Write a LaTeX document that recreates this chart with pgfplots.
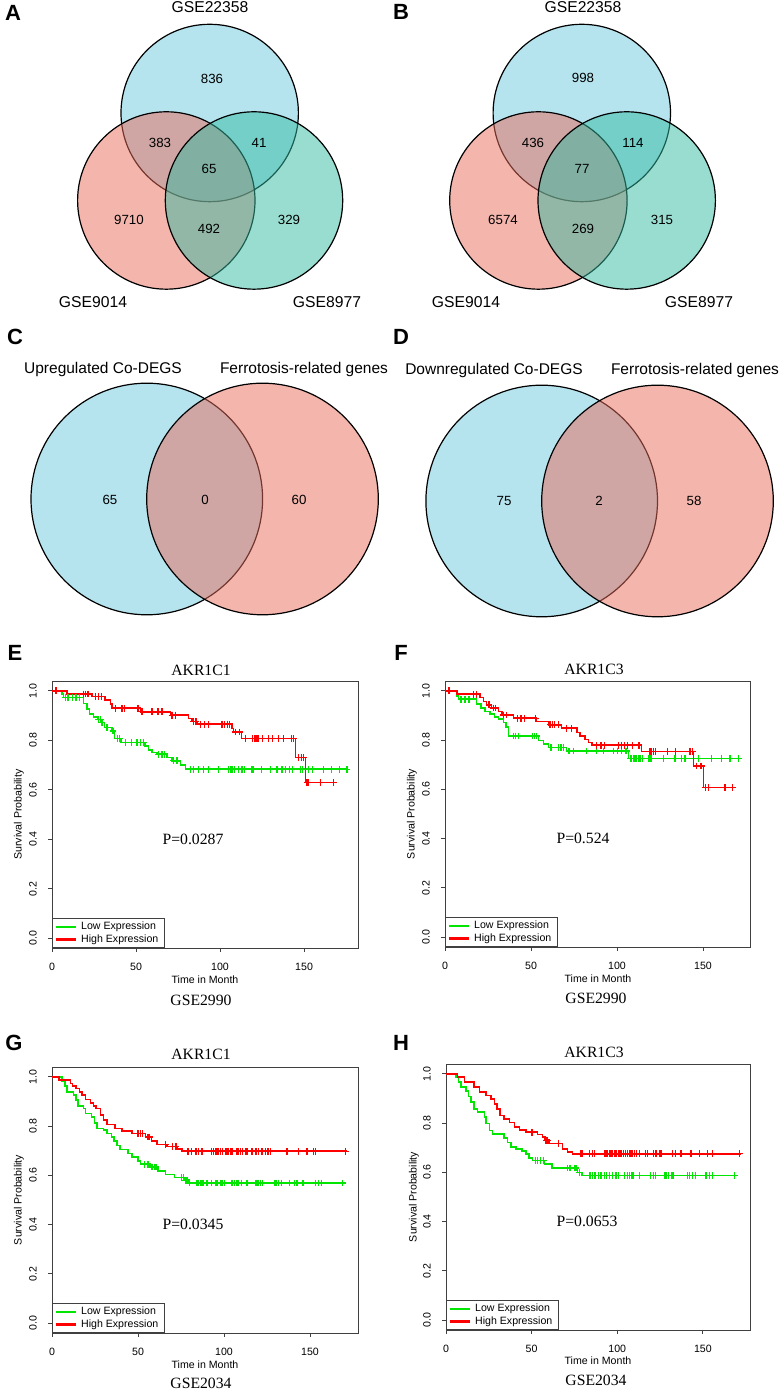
\documentclass[border=0pt]{standalone}
\usepackage{fontspec}
\setmainfont{Liberation Sans}
\newfontfamily\seriffont{Liberation Serif}
\usepackage{pgfplots}
\pgfplotsset{compat=1.18}

\definecolor{vblue}{HTML}{6BC7DD}
\definecolor{vred}{HTML}{E96B5B}
\definecolor{vgreen}{HTML}{33BBA1}
\definecolor{kmgreen}{HTML}{00E600}
\definecolor{kmred}{HTML}{FF0000}

\newcommand{\kmfont}{\fontsize{10.6bp}{12bp}\selectfont}

\tikzset{
  num/.style={font=\fontsize{13.3bp}{15bp}\selectfont},
  setlab/.style={font=\fontsize{15.7bp}{18bp}\selectfont},
  setlabb/.style={font=\fontsize{15.5bp}{18bp}\selectfont},
  plab/.style={font=\fontsize{22bp}{24bp}\selectfont\bfseries},
  ttl/.style={font=\seriffont\fontsize{15.7bp}{18bp}\selectfont},
  lab/.style={font=\kmfont},
}

\pgfplotsset{
  venn/.style={anchor=south west, x=1bp, y=1bp, hide axis, clip=false},
  circ/.style 2 args={only marks, mark=*, mark size=#1,
    mark options={draw=black, line width=1.2bp, fill=#2, fill opacity=0.5, draw opacity=1}},
  km/.style={
    anchor=south west, scale only axis,
    xmin=0, ymin=-0.04, ymax=1.04,
    axis line style={black!75, line width=0.9bp},
    every tick/.style={black!75, line width=0.9bp},
    tick align=outside, major tick length=4bp, tick pos=left,
    xtick={0,50,100,150}, xticklabels={0,50,100,150},
    ytick={0,0.2,0.4,0.6,0.8,1}, yticklabels={0.0,0.2,0.4,0.6,0.8,1.0},
    ticklabel style={font=\kmfont},
    xticklabel style={anchor=north, inner sep=0pt},
    yticklabel style={rotate=90, anchor=south, inner sep=0pt},
    xticklabel shift=11bp, yticklabel shift=11bp,
    legend style={at={(0,0)}, anchor=south west, draw=black!75, line width=0.9bp,
      fill=white, font=\kmfont, inner xsep=2bp, inner ysep=2.5bp, row sep=1.5bp,
      nodes={inner xsep=4.5bp, inner ysep=1bp}},
    legend cell align=left,
  },
  kmline/.style={const plot, line width=1.6bp, draw=#1, forget plot},
  kmcens/.style={only marks, mark=+, mark size=3.4bp, draw=#1, line width=1.2bp, forget plot},
}

\newcommand{\kmlegend}{%
  \addlegendimage{legend image code/.code={\draw[kmgreen, line width=2.2bp] (0bp,0bp) -- (20bp,0bp);}}
  \addlegendentry{Low Expression}
  \addlegendimage{legend image code/.code={\draw[kmred, line width=2.2bp] (0bp,0bp) -- (20bp,0bp);}}
  \addlegendentry{High Expression}}

\begin{document}
\begin{tikzpicture}
\useasboundingbox (0,0) rectangle (782bp,1390bp);

% ---------------- A ----------------
\begin{axis}[venn, at={(0bp,1075bp)}, xmin=0, xmax=391, ymin=1075, ymax=1390]
\addplot[circ={88.7bp}{vblue}] coordinates {(209.7,1277)};
\addplot[circ={88.7bp}{vred}] coordinates {(166.3,1189.5)};
\addplot[circ={88.7bp}{vgreen}] coordinates {(254,1189.5)};
\end{axis}

% ---------------- B ----------------
\begin{axis}[venn, at={(391bp,1075bp)}, xmin=391, xmax=782, ymin=1075, ymax=1390]
\addplot[circ={88.7bp}{vblue}] coordinates {(581.8,1277)};
\addplot[circ={88.7bp}{vred}] coordinates {(538.4,1189.5)};
\addplot[circ={88.7bp}{vgreen}] coordinates {(626.7,1189.5)};
\end{axis}

% ---------------- C ----------------
\begin{axis}[venn, at={(0bp,770bp)}, xmin=0, xmax=391, ymin=770, ymax=1070]
\addplot[circ={115.8bp}{vblue}] coordinates {(146.8,891)};
\addplot[circ={115.8bp}{vred}] coordinates {(262.5,891)};
\end{axis}

% ---------------- D ----------------
\begin{axis}[venn, at={(391bp,770bp)}, xmin=391, xmax=782, ymin=770, ymax=1070]
\addplot[circ={115.8bp}{vblue}] coordinates {(541.7,889)};
\addplot[circ={115.8bp}{vred}] coordinates {(657.5,889)};
\end{axis}

% Venn texts
\node[setlab] at (210bp,1383bp) {GSE22358};
\node[setlab] at (93bp,1088bp) {GSE9014};
\node[setlab] at (327bp,1088bp) {GSE8977};
\node[num] at (212bp,1311bp) {836};
\node[num] at (160bp,1247bp) {383};
\node[num] at (259bp,1247bp) {41};
\node[num] at (209bp,1221bp) {65};
\node[num] at (129bp,1170bp) {9710};
\node[num] at (209bp,1161bp) {492};
\node[num] at (289bp,1170bp) {329};

\node[setlab] at (583bp,1383bp) {GSE22358};
\node[setlab] at (466bp,1088bp) {GSE9014};
\node[setlab] at (699bp,1088bp) {GSE8977};
\node[num] at (583bp,1312bp) {998};
\node[num] at (533bp,1247bp) {436};
\node[num] at (633bp,1247bp) {114};
\node[num] at (582bp,1221bp) {77};
\node[num] at (503bp,1170bp) {6574};
\node[num] at (583bp,1161bp) {269};
\node[num] at (662bp,1170bp) {315};

\node[setlabb] at (103bp,1020bp) {Upregulated Co-DEGS};
\node[setlabb] at (304bp,1020bp) {Ferrotosis-related genes};
\node[num] at (110bp,890bp) {65};
\node[num] at (205bp,890bp) {0};
\node[num] at (299bp,890bp) {60};

\node[setlabb] at (494bp,1019bp) {Downregulated Co-DEGS};
\node[setlabb] at (695bp,1019bp) {Ferrotosis-related genes};
\node[num] at (504bp,889bp) {75};
\node[num] at (599bp,889bp) {2};
\node[num] at (694bp,889bp) {58};

% ---------------- E ----------------
\begin{axis}[km, at={(52bp,442bp)}, width=306bp, height=267bp, xmax=182.1]
\kmlegend
\addplot[kmline=kmgreen] coordinates {(0,1.000) (6.0,0.987) (6.9,0.973) (18.8,0.949) (20.8,0.926) (22.2,0.906) (24.8,0.895) (27.4,0.885) (29.4,0.872) (31.3,0.852) (35.7,0.838) (37.1,0.807) (41.0,0.791) (55.2,0.777) (57.5,0.761) (59.5,0.750) (62.5,0.744) (68.5,0.730) (71.4,0.717) (76.4,0.699) (79.4,0.683) (175.6,0.683)};
\addplot[kmline=kmred] coordinates {(0,1.000) (8.9,0.987) (23.8,0.977) (31.7,0.964) (34.7,0.946) (35.7,0.930) (52.6,0.915) (70.4,0.902) (81.3,0.888) (83.3,0.876) (86.3,0.865) (107.1,0.848) (108.1,0.834) (112.7,0.807) (144.8,0.730) (150.8,0.629) (169.6,0.629)};
\addplot[kmcens=kmgreen] coordinates {(7.9,0.973) (9.5,0.973) (12.3,0.973) (14.3,0.973) (16.3,0.973) (27.8,0.885) (28.8,0.885) (29.8,0.872) (32.7,0.852) (36.3,0.838) (38.9,0.807) (40.3,0.807) (43.7,0.791) (47.2,0.791) (50.6,0.791) (52.6,0.791) (54.6,0.791) (63.5,0.744) (65.5,0.744) (67.1,0.744) (72.4,0.717) (74.4,0.717) (82.3,0.683) (84.3,0.683) (87.3,0.683) (90.3,0.683) (92.9,0.683) (99.2,0.683) (105.2,0.683) (106.2,0.683) (107.1,0.683) (108.7,0.683) (111.1,0.683) (113.1,0.683) (114.7,0.683) (119.0,0.683) (120.0,0.683) (124.6,0.683) (130.0,0.683) (133.9,0.683) (136.9,0.683) (138.9,0.683) (141.3,0.683) (142.9,0.683) (147.8,0.683) (149.2,0.683) (152.8,0.683) (155.2,0.683) (161.7,0.683) (166.3,0.683) (171.0,0.683) (175.6,0.683)};
\addplot[kmcens=kmred] coordinates {(2.4,1.000) (18.8,0.987) (19.8,0.987) (21.4,0.987) (25.8,0.977) (27.8,0.977) (29.4,0.977) (37.7,0.930) (41.7,0.930) (43.3,0.930) (51.2,0.930) (53.6,0.915) (59.5,0.915) (63.1,0.915) (65.5,0.915) (71.4,0.902) (73.4,0.902) (84.3,0.876) (85.7,0.876) (88.3,0.865) (90.9,0.865) (92.9,0.865) (101.2,0.865) (102.8,0.865) (104.2,0.865) (105.6,0.865) (109.1,0.834) (111.5,0.834) (115.1,0.807) (119.4,0.807) (120.4,0.807) (121.4,0.807) (122.6,0.807) (125.4,0.807) (128.6,0.807) (131.0,0.807) (134.9,0.807) (137.9,0.807) (142.5,0.807) (143.8,0.807) (146.8,0.730) (148.4,0.730) (149.8,0.730) (151.8,0.629) (152.8,0.629) (159.7,0.629) (167.7,0.629)};
\end{axis}

% ---------------- F ----------------
\begin{axis}[km, at={(445bp,443bp)}, width=305bp, height=266bp, xmax=177.3]
\kmlegend
\addplot[kmline=kmgreen] coordinates {(0,1.000) (6.8,0.980) (7.8,0.966) (18.4,0.946) (20.9,0.930) (23.3,0.916) (26.2,0.905) (28.7,0.894) (31.0,0.885) (33.9,0.871) (35.5,0.854) (36.8,0.817) (54.3,0.799) (57.2,0.783) (60.1,0.770) (70.7,0.756) (106.6,0.726) (171.5,0.726)};
\addplot[kmline=kmred] coordinates {(0,1.000) (6.8,0.986) (20.3,0.973) (22.3,0.957) (24.2,0.943) (27.1,0.930) (31.0,0.916) (33.3,0.902) (39.7,0.889) (53.3,0.875) (60.1,0.862) (67.8,0.848) (76.6,0.831) (78.5,0.817) (81.4,0.803) (83.3,0.790) (85.3,0.779) (114.3,0.753) (144.4,0.695) (150.2,0.607) (168.6,0.607)};
\addplot[kmcens=kmgreen] coordinates {(9.3,0.966) (11.6,0.966) (14.0,0.966) (39.7,0.817) (41.1,0.817) (42.6,0.817) (50.8,0.817) (51.9,0.817) (53.3,0.817) (61.6,0.770) (65.9,0.770) (67.4,0.770) (68.8,0.770) (72.1,0.756) (74.6,0.756) (82.4,0.756) (88.2,0.756) (92.1,0.756) (97.9,0.756) (100.4,0.756) (102.7,0.756) (104.7,0.756) (105.6,0.756) (107.6,0.726) (108.5,0.726) (109.5,0.726) (110.5,0.726) (111.4,0.726) (112.4,0.726) (113.4,0.726) (114.7,0.726) (118.6,0.726) (119.8,0.726) (126.9,0.726) (133.7,0.726) (137.6,0.726) (139.5,0.726) (147.3,0.726) (155.0,0.726) (160.9,0.726) (165.7,0.726) (170.5,0.726)};
\addplot[kmcens=kmred] coordinates {(2.3,1.000) (16.5,0.986) (18.4,0.986) (25.6,0.943) (28.1,0.930) (29.5,0.930) (33.9,0.902) (35.9,0.902) (42.2,0.889) (44.2,0.889) (46.1,0.889) (52.7,0.889) (61.0,0.862) (62.4,0.862) (63.6,0.862) (65.9,0.862) (70.7,0.848) (73.3,0.848) (88.2,0.779) (90.7,0.779) (92.6,0.779) (100.8,0.779) (102.7,0.779) (104.3,0.779) (106.2,0.779) (108.9,0.779) (112.8,0.779) (119.2,0.753) (120.2,0.753) (121.1,0.753) (122.5,0.753) (129.5,0.753) (134.1,0.753) (142.4,0.753) (143.8,0.753) (146.3,0.695) (148.3,0.695) (149.2,0.695) (151.6,0.607) (153.1,0.607) (162.8,0.607) (167.1,0.607)};
\end{axis}

% ---------------- G ----------------
\begin{axis}[km, at={(52bp,57bp)}, width=306bp, height=266bp, xmax=177.9]
\kmlegend
\addplot[kmline=kmgreen] coordinates {(0,1.000) (5.8,0.984) (7.4,0.962) (8.7,0.939) (12.6,0.926) (14.0,0.905) (15.1,0.881) (18.4,0.871) (19.4,0.851) (22.9,0.837) (24.8,0.813) (26.2,0.790) (30.0,0.783) (32.0,0.770) (34.5,0.756) (35.9,0.740) (37.8,0.722) (39.7,0.705) (44.2,0.688) (46.5,0.675) (50.0,0.659) (51.4,0.645) (57.0,0.634) (61.6,0.618) (65.9,0.604) (71.3,0.591) (77.1,0.580) (79.5,0.569) (169.6,0.569)};
\addplot[kmline=kmred] coordinates {(0,1.000) (3.9,0.986) (10.7,0.973) (12.0,0.962) (14.0,0.953) (15.9,0.939) (17.4,0.926) (19.4,0.908) (22.3,0.894) (24.2,0.881) (25.6,0.871) (28.1,0.844) (30.0,0.824) (32.0,0.806) (36.8,0.790) (40.7,0.781) (46.5,0.770) (54.3,0.756) (57.8,0.740) (61.0,0.726) (66.9,0.718) (72.7,0.706) (75.6,0.698) (171.5,0.698)};
\addplot[kmcens=kmgreen] coordinates {(53.9,0.645) (55.8,0.645) (58.1,0.634) (59.7,0.634) (60.5,0.634) (75.2,0.591) (76.6,0.591) (77.5,0.580) (78.5,0.580) (79.8,0.569) (84.3,0.569) (85.3,0.569) (86.2,0.569) (87.2,0.569) (88.2,0.569) (90.1,0.569) (92.6,0.569) (95.0,0.569) (95.9,0.569) (97.9,0.569) (98.8,0.569) (100.4,0.569) (104.3,0.569) (105.0,0.569) (106.2,0.569) (107.6,0.569) (108.5,0.569) (110.1,0.569) (113.4,0.569) (118.6,0.569) (119.8,0.569) (121.1,0.569) (122.5,0.569) (129.5,0.569) (130.2,0.569) (131.8,0.569) (133.3,0.569) (138.0,0.569) (141.1,0.569) (142.4,0.569) (145.7,0.569) (146.3,0.569) (153.1,0.569) (155.0,0.569) (156.6,0.569) (169.0,0.569)};
\addplot[kmcens=kmred] coordinates {(50.0,0.770) (51.4,0.770) (52.7,0.770) (55.8,0.756) (56.8,0.756) (65.9,0.726) (70.2,0.718) (72.1,0.718) (79.1,0.698) (81.0,0.698) (83.7,0.698) (85.3,0.698) (86.8,0.698) (87.6,0.698) (92.6,0.698) (94.0,0.698) (95.3,0.698) (96.5,0.698) (97.9,0.698) (99.2,0.698) (100.8,0.698) (101.7,0.698) (102.7,0.698) (103.7,0.698) (104.7,0.698) (107.6,0.698) (108.5,0.698) (109.5,0.698) (110.9,0.698) (112.4,0.698) (113.4,0.698) (116.3,0.698) (118.6,0.698) (120.2,0.698) (121.7,0.698) (122.5,0.698) (124.0,0.698) (125.6,0.698) (126.9,0.698) (136.6,0.698) (143.4,0.698) (148.3,0.698) (152.1,0.698) (153.1,0.698) (170.5,0.698)};
\end{axis}

% ---------------- H ----------------
\begin{axis}[km, at={(446bp,60bp)}, width=304bp, height=266bp, xmax=177.5]
\kmlegend
\addplot[kmline=kmgreen] coordinates {(0,1.000) (5.8,0.986) (7.4,0.966) (8.8,0.946) (11.7,0.930) (13.2,0.908) (14.6,0.885) (16.5,0.858) (18.5,0.844) (22.4,0.824) (23.3,0.799) (25.3,0.770) (27.2,0.756) (34.0,0.740) (36.0,0.722) (37.9,0.702) (40.9,0.695) (44.4,0.686) (46.7,0.675) (48.6,0.659) (50.6,0.648) (57.4,0.634) (61.9,0.618) (76.8,0.600) (79.4,0.587) (170.3,0.587)};
\addplot[kmline=kmred] coordinates {(0,1.000) (6.8,0.986) (10.7,0.966) (16.5,0.946) (19.5,0.926) (23.3,0.912) (26.3,0.898) (28.2,0.878) (29.6,0.858) (31.5,0.831) (34.0,0.817) (37.0,0.803) (39.9,0.783) (42.8,0.772) (46.7,0.763) (53.5,0.753) (56.4,0.743) (57.8,0.731) (60.3,0.718) (68.1,0.695) (71.0,0.682) (73.9,0.675) (172.2,0.675)};
\addplot[kmcens=kmgreen] coordinates {(52.1,0.648) (53.5,0.648) (55.4,0.648) (56.8,0.648) (71.0,0.618) (72.4,0.618) (74.9,0.618) (75.9,0.618) (77.8,0.600) (83.7,0.587) (84.6,0.587) (85.6,0.587) (86.6,0.587) (87.5,0.587) (89.1,0.587) (90.5,0.587) (92.4,0.587) (93.8,0.587) (95.3,0.587) (97.3,0.587) (99.2,0.587) (100.8,0.587) (104.1,0.587) (106.0,0.587) (107.0,0.587) (108.6,0.587) (109.3,0.587) (112.8,0.587) (119.6,0.587) (121.0,0.587) (122.2,0.587) (127.4,0.587) (128.4,0.587) (130.0,0.587) (131.9,0.587) (132.7,0.587) (141.1,0.587) (142.4,0.587) (144.0,0.587) (145.9,0.587) (151.8,0.587) (153.7,0.587) (155.6,0.587) (168.3,0.587)};
\addplot[kmcens=kmred] coordinates {(50.2,0.763) (58.4,0.731) (59.3,0.731) (65.8,0.718) (78.8,0.675) (79.8,0.675) (83.7,0.675) (85.6,0.675) (86.6,0.675) (92.4,0.675) (93.4,0.675) (94.4,0.675) (95.7,0.675) (96.9,0.675) (98.2,0.675) (99.2,0.675) (100.8,0.675) (101.6,0.675) (102.7,0.675) (103.5,0.675) (104.7,0.675) (106.0,0.675) (107.0,0.675) (108.0,0.675) (108.9,0.675) (109.9,0.675) (111.3,0.675) (112.8,0.675) (116.3,0.675) (117.7,0.675) (121.0,0.675) (122.2,0.675) (123.0,0.675) (124.5,0.675) (125.5,0.675) (132.3,0.675) (133.9,0.675) (137.2,0.675) (143.0,0.675) (147.9,0.675) (152.7,0.675) (155.6,0.675) (171.2,0.675)};
\end{axis}

% ---------------- texts around the survival panels ----------------
\node[ttl] at (201bp,720bp) {AKR1C1};
\node[ttl] at (193bp,551bp) {P=0.0287};
\node[lab] at (205bp,410bp) {Time in Month};
\node[ttl] at (201bp,390bp) {GSE2990};
\node[lab, rotate=90] at (19bp,575.5bp) {Survival Probability};

\node[ttl] at (594bp,721bp) {AKR1C3};
\node[ttl] at (583bp,552bp) {P=0.524};
\node[lab] at (598bp,411bp) {Time in Month};
\node[ttl] at (596bp,392bp) {GSE2990};
\node[lab, rotate=90] at (412bp,576bp) {Survival Probability};

\node[ttl] at (201bp,336bp) {AKR1C1};
\node[ttl] at (193bp,166bp) {P=0.0345};
\node[lab] at (205bp,25bp) {Time in Month};
\node[ttl] at (201bp,7bp) {GSE2034};
\node[lab, rotate=90] at (19bp,190bp) {Survival Probability};

\node[ttl] at (594bp,338bp) {AKR1C3};
\node[ttl] at (587bp,169bp) {P=0.0653};
\node[lab] at (598bp,29bp) {Time in Month};
\node[ttl] at (596bp,10bp) {GSE2034};
\node[lab, rotate=90] at (414bp,193bp) {Survival Probability};

% ---------------- panel letters ----------------
\node[plab] at (13bp,1377bp) {A};
\node[plab] at (401bp,1378bp) {B};
\node[plab] at (15bp,1053bp) {C};
\node[plab] at (401bp,1053bp) {D};
\node[plab] at (15bp,737bp) {E};
\node[plab] at (401bp,737bp) {F};
\node[plab] at (14bp,347bp) {G};
\node[plab] at (401bp,347bp) {H};
\end{tikzpicture}
\end{document}
